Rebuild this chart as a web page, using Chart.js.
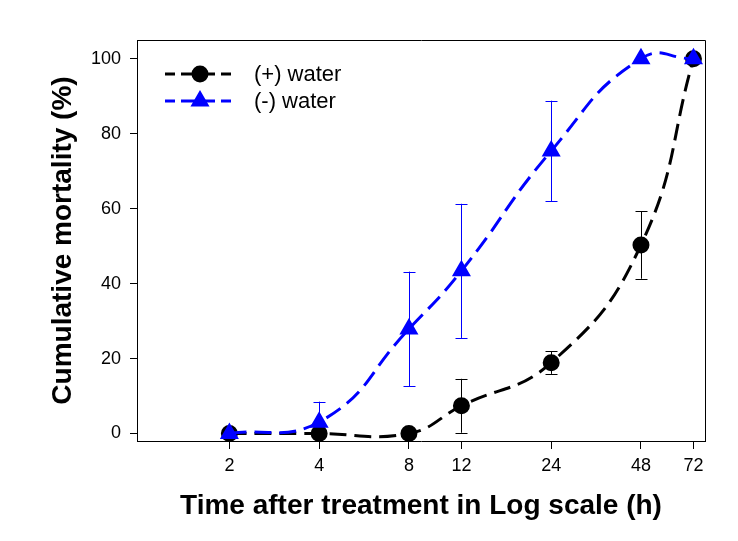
<!DOCTYPE html>
<html lang="en">
<head>
    <meta charset="UTF-8">
    <title>Cumulative mortality</title>
    <script src="https://cdn.jsdelivr.net/npm/chart.js"></script>
    <style>
        body { margin: 0; background: #fff; }
        #wrap { width: 738px; height: 541px; }
    </style>
</head>
<body>
<div id="wrap"><canvas id="mortalityChart" width="738" height="541"></canvas></div>

<script>
// hours after treatment (log x axis)
const hours = [2, 4, 8, 12, 24, 48, 72];
const xTicks = [2, 4, 8, 12, 24, 48, 72];
const yTicks = [0, 20, 40, 60, 80, 100];

// (+) water
const plusWater = [0, 0, 0, 7.4, 18.9, 50.3, 100];
const plusWaterErr = [0, 0, 0, 7.2, 3.0, 9.0, 0];

// (-) water
const minusWater = [0, 3, 27.9, 43.4, 75.4, 100, 100];
const minusWaterErr = [0, 5.5, 15.3, 17.9, 13.4, 0, 0];

const FONT = "Arial, 'Liberation Sans', sans-serif";

// error bars (drawn under the markers)
const errorBars = {
    id: 'errorBars',
    beforeDatasetsDraw(chart) {
        const ctx = chart.ctx;
        const y = chart.scales.y;
        const area = chart.chartArea;
        ctx.save();
        ctx.beginPath();
        ctx.rect(area.left, area.top, area.right - area.left, area.bottom - area.top);
        ctx.clip();
        chart.data.datasets.forEach((ds, i) => {
            const meta = chart.getDatasetMeta(i);
            ctx.strokeStyle = ds.borderColor;
            ctx.lineWidth = 1;
            meta.data.forEach((pt, j) => {
                const e = ds.errors[j];
                if (!e) return;
                const x = Math.round(pt.x) + 0.5;
                const top = y.getPixelForValue(ds.data[j] + e);
                const bot = y.getPixelForValue(ds.data[j] - e);
                ctx.beginPath();
                ctx.moveTo(x, top); ctx.lineTo(x, bot);
                ctx.moveTo(x - 6, Math.round(top) + 0.5); ctx.lineTo(x + 6, Math.round(top) + 0.5);
                ctx.moveTo(x - 6, Math.round(bot) + 0.5); ctx.lineTo(x + 6, Math.round(bot) + 0.5);
                ctx.stroke();
            });
        });
        ctx.restore();
    }
};

// box around the plot + legend inside the plot
const frameAndLegend = {
    id: 'frameAndLegend',
    afterDraw(chart) {
        const ctx = chart.ctx;
        const a = chart.chartArea;
        ctx.save();
        ctx.strokeStyle = '#000';
        ctx.lineWidth = 1;
        ctx.beginPath();
        ctx.moveTo(Math.round(a.left) + 0.5, Math.round(a.top) + 0.5);
        ctx.lineTo(Math.round(a.right) + 0.5, Math.round(a.top) + 0.5);
        ctx.lineTo(Math.round(a.right) + 0.5, Math.round(a.bottom) + 0.5);
        ctx.stroke();

        const rows = [0, 1];
        rows.forEach((i, k) => {
            const ds = chart.data.datasets[i];
            const ly = 74 + k * 27;
            ctx.setLineDash([14, 6]);
            ctx.lineDashOffset = 4;
            ctx.lineWidth = 3;
            ctx.strokeStyle = ds.borderColor;
            ctx.beginPath();
            ctx.moveTo(165, ly);
            ctx.lineTo(231, ly);
            ctx.stroke();
            ctx.setLineDash([]);
            ctx.fillStyle = ds.pointBackgroundColor;
            ctx.strokeStyle = ds.borderColor;
            Chart.helpers.drawPoint(ctx, {
                pointStyle: ds.pointStyle,
                radius: ds.pointStyle === 'triangle' ? 8 : 7,
                rotation: 0,
                borderWidth: 1
            }, 200, ly);
            ctx.fillStyle = '#000';
            ctx.font = '22px ' + FONT;
            ctx.textBaseline = 'middle';
            ctx.textAlign = 'left';
            ctx.fillText(ds.label, 254, ly + 1);
        });
        ctx.restore();
    }
};

const ctx = document.getElementById('mortalityChart').getContext('2d');
const chart = new Chart(ctx, {
    type: 'line',
    data: {
        labels: hours,
        datasets: [
            {
                label: '(+) water',
                data: plusWater,
                errors: plusWaterErr,
                borderColor: '#000000',
                backgroundColor: '#000000',
                pointBackgroundColor: '#000000',
                pointBorderColor: '#000000',
                pointStyle: 'circle',
                pointRadius: 7,
                borderWidth: 3,
                borderDash: [17, 8],
                tension: 0.45,
                order: 1
            },
            {
                label: '(-) water',
                data: minusWater,
                errors: minusWaterErr,
                borderColor: '#0000ff',
                backgroundColor: '#0000ff',
                pointBackgroundColor: '#0000ff',
                pointBorderColor: '#0000ff',
                pointStyle: 'triangle',
                pointRadius: 8,
                borderWidth: 3,
                borderDash: [17, 8],
                tension: 0.5,
                order: 0
            }
        ]
    },
    options: {
        responsive: false,
        animation: false,
        clip: false,
        layout: { padding: { top: 40, right: 33, left: 0, bottom: 0 } },
        plugins: {
            legend: { display: false },
            tooltip: { enabled: false }
        },
        scales: {
            x: {
                type: 'logarithmic',
                min: 0.98,
                max: 78.7,
                afterBuildTicks: (scale) => { scale.ticks = xTicks.map(v => ({ value: v })); },
                afterFit: (scale) => { scale.height = 100; },
                grid: { display: true, drawOnChartArea: false, drawTicks: true, tickLength: 8, color: '#000' },
                border: { display: true, color: '#000', width: 1 },
                ticks: {
                    callback: (v) => String(v),
                    color: '#000',
                    font: { family: FONT, size: 18 },
                    padding: 6,
                    maxRotation: 0,
                    autoSkip: false
                },
                title: {
                    display: true,
                    text: 'Time after treatment in Log scale (h)',
                    color: '#000',
                    font: { family: FONT, size: 28, weight: 'bold' },
                    padding: { top: 0, bottom: 18 }
                }
            },
            y: {
                min: -2,
                max: 105,
                afterBuildTicks: (scale) => { scale.ticks = yTicks.map(v => ({ value: v })); },
                afterFit: (scale) => { scale.width = 137; },
                grid: { display: true, drawOnChartArea: false, drawTicks: true, tickLength: 7, color: '#000' },
                border: { display: true, color: '#000', width: 1 },
                ticks: {
                    color: '#000',
                    font: { family: FONT, size: 18 },
                    padding: 9
                },
                title: {
                    display: true,
                    text: 'Cumulative mortality (%)',
                    color: '#000',
                    font: { family: FONT, size: 28, weight: 'bold' },
                    padding: { top: 46, bottom: 0 }
                }
            }
        }
    },
    plugins: [errorBars, frameAndLegend]
});
</script>
</body>
</html>
